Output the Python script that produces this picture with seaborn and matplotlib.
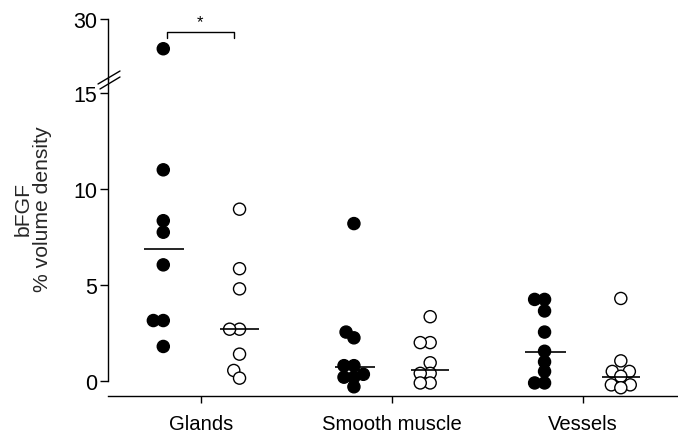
import numpy as np
import pandas as pd
import matplotlib
matplotlib.use("Agg")
import matplotlib.pyplot as plt
from matplotlib.lines import Line2D
from matplotlib.collections import PathCollection
import seaborn as sns

categories = ["Glands", "Smooth muscle", "Vessels"]
groups = ["filled", "open"]

glands_filled = [25.6, 11.0, 8.35, 7.75, 6.05, 3.15, 3.15, 1.8]
glands_open = [8.95, 5.85, 4.8, 2.7, 2.7, 1.4, 0.55, 0.15]
smooth_filled = [8.2, 2.55, 2.25, 0.8, 0.8, 0.35, 0.2, 0.2, -0.3]
smooth_open = [3.35, 2.0, 2.0, 0.95, 0.4, 0.4, -0.1, -0.1]
vessels_filled = [4.25, 4.25, 3.65, 2.55, 1.55, 1.0, 0.5, -0.1, -0.1]
vessels_open = [4.3, 1.05, 0.5, 0.5, 0.25, -0.2, -0.2, -0.35]

medians_filled = [6.9, 0.75, 1.5]
medians_open = [2.7, 0.55, 0.2]

yticks_low = [0, 5, 10, 15]
yticks_high = [30]

series = {
    ("Glands", "filled"): glands_filled,
    ("Glands", "open"): glands_open,
    ("Smooth muscle", "filled"): smooth_filled,
    ("Smooth muscle", "open"): smooth_open,
    ("Vessels", "filled"): vessels_filled,
    ("Vessels", "open"): vessels_open,
}
rows = []
for (cat, grp), vals in series.items():
    for v in vals:
        rows.append({"tissue": cat, "group": grp, "value": v})
df = pd.DataFrame(rows)

sns.set_style("ticks")
plt.rcParams['font.family'] = ['Liberation Sans', 'DejaVu Sans']

FS = 14.6
FS_Y = 15.5
W, H = 678, 435
fig = plt.figure(figsize=(W / 100, H / 100), dpi=100)
ax = fig.add_axes([108 / W, 1 - 397 / H, 1 - 108 / W, (397 - 80) / H])
axt = fig.add_axes([108 / W, 1 - 80 / H, 1 - 108 / W, (80 - 14) / H])

LAYOUT_SIZE = 5.8   # marker size used to lay out the swarm (points overlap like the original)
MARKER_SIZE = 8.7   # drawn marker size

for a in (ax, axt):
    sns.swarmplot(data=df, x="tissue", y="value", hue="group", order=categories,
                  hue_order=groups, palette={"filled": "black", "open": "white"},
                  dodge=True, size=LAYOUT_SIZE, linewidth=1, edgecolor="black",
                  legend=False, ax=a, warn_thresh=1)
    a.set_xlim(-0.49, 2.5)
    a.set_xlabel("")
    a.set_ylabel("")
    for s in ("top", "right"):
        a.spines[s].set_visible(False)
    for s in ("left", "bottom"):
        a.spines[s].set_linewidth(1)
        a.spines[s].set_color("black")

ax.set_ylim(-0.78, 15.73)
ax.spines["left"].set_bounds(0, 15.73)
ax.set_yticks(yticks_low)
ax.tick_params(axis="y", length=6, width=1, labelsize=FS_Y, pad=2, colors="black")
ax.tick_params(axis="x", length=5, width=1, labelsize=FS, pad=8, colors="black")

axt.set_ylim(21.2, 30.8)
axt.spines["left"].set_bounds(21.2, 30)
axt.spines["bottom"].set_visible(False)
axt.set_yticks(yticks_high)
axt.set_xticks([])
axt.tick_params(axis="y", length=6, width=1, labelsize=FS_Y, pad=2, colors="black")
axt.patch.set_alpha(0)

# lay out the swarm once, then freeze positions and enlarge markers
fig.canvas.draw()
for a in (ax, axt):
    for c in a.collections:
        if isinstance(c, PathCollection):
            if "draw" in c.__dict__:
                del c.draw
            c.set_sizes([MARKER_SIZE ** 2])

# medians
for i, (mf, mo) in enumerate(zip(medians_filled, medians_open)):
    ax.hlines(mf, i - 0.2 - 0.1, i - 0.2 + 0.11, color="black", lw=1.2, zorder=5)
    ax.hlines(mo, i + 0.2 - 0.1, i + 0.2 + 0.1, color="black", lw=1.2, zorder=5)

# significance bracket
axt.plot([-0.18, -0.18, 0.17, 0.17], [27.1, 28.1, 28.1, 27.1], color="black", lw=1, clip_on=False)
axt.text(-0.005, 28.4, "*", ha="center", va="bottom", fontsize=12, color="black")

# axis break marks
for (x0, y0, x1, y1) in [(98, 85, 120, 72), (100, 90, 120, 78)]:
    fig.add_artist(Line2D([x0 / W, x1 / W], [1 - y0 / H, 1 - y1 / H],
                          transform=fig.transFigure, color="black", lw=1))

fig.text(33 / W, 1 - 209 / H, "bFGF\n% volume density", rotation=90, ha="center",
         va="center", fontsize=15.2, multialignment="center", linespacing=1.0)

fig.savefig("out.png", dpi=100)
